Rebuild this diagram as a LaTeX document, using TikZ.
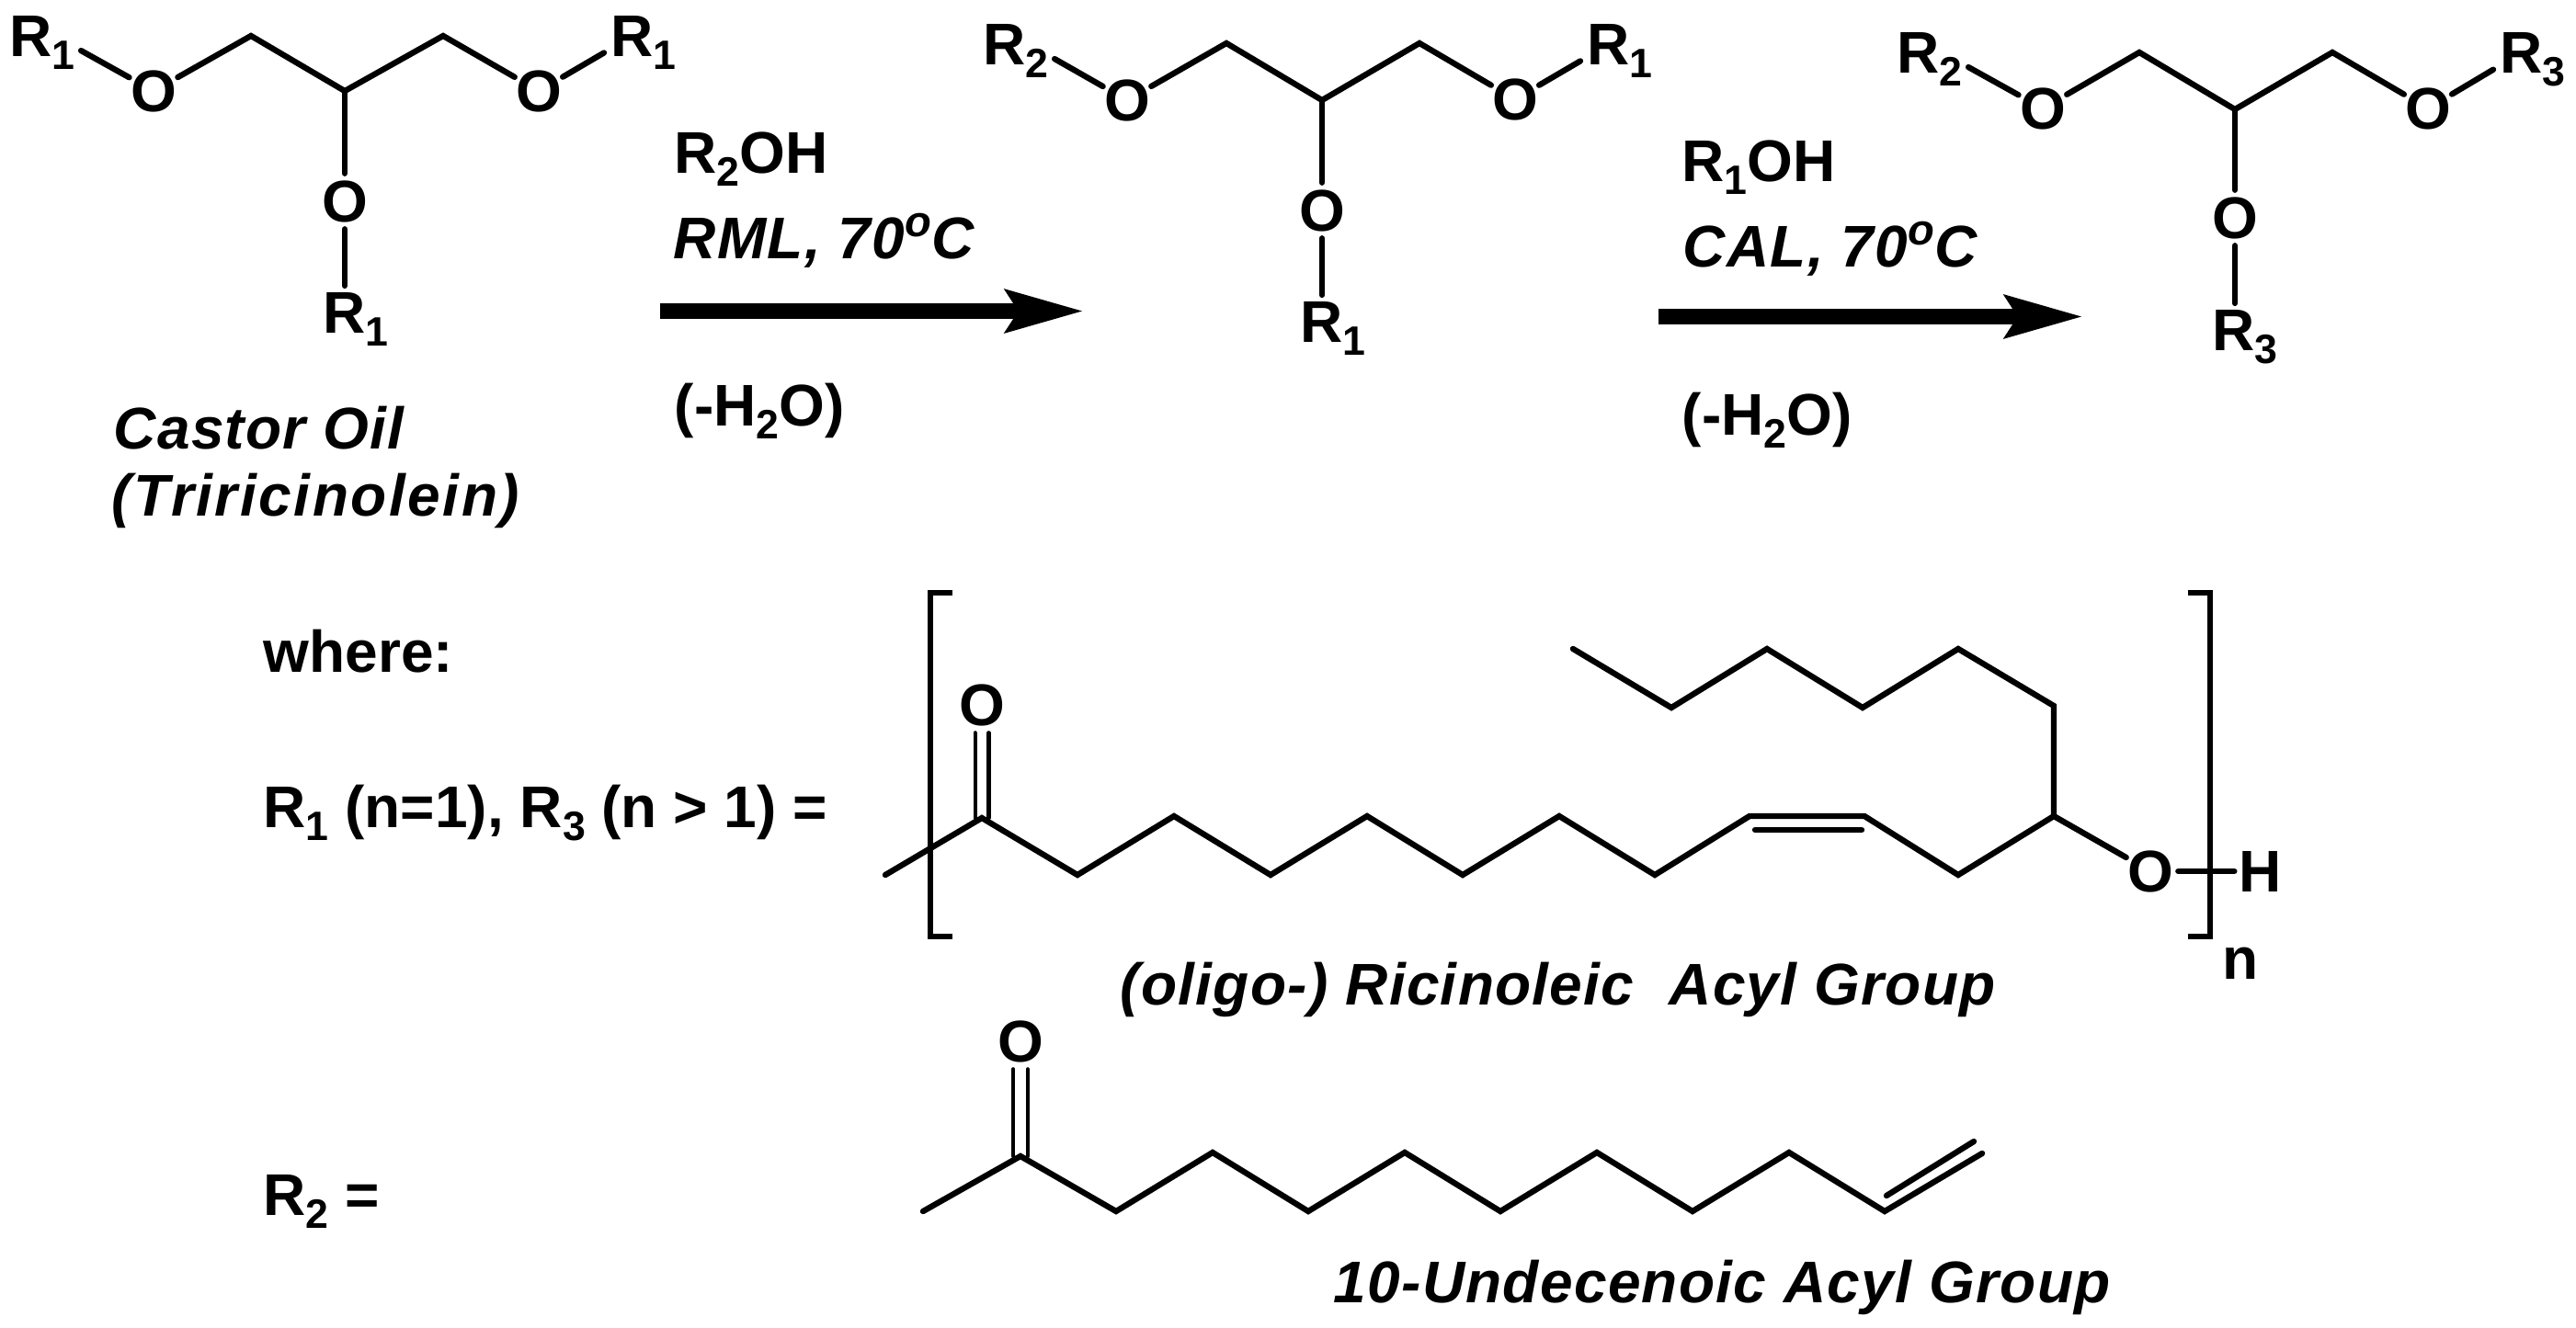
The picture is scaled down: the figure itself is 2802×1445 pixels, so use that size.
\documentclass[tikz,border=0pt]{standalone}
\usepackage{fontspec}
\setmainfont{Liberation Sans}
\newfontfamily\spacedfont[LetterSpace=2]{Liberation Sans}
\newfontfamily\widerfont[LetterSpace=4]{Liberation Sans}
\usepackage{tikz}
\usetikzlibrary{arrows.meta}
\newcommand{\subidx}[1]{\raisebox{-4pt}{\fontsize{12.7}{14}\selectfont #1}}
\newcommand{\supdeg}{\raisebox{6.8pt}{\fontsize{13.4}{14}\selectfont o}}
\tikzstyle{atom} = [circle, inner sep=-0.8pt, font=\fontsize{18.2}{20}\selectfont\bfseries]
\tikzstyle{rgroup} = [anchor=base west, inner sep=0pt, outer sep=2pt, font=\fontsize{18.2}{20}\selectfont\bfseries]
\tikzstyle{plain} = [anchor=base west, inner sep=0pt, font=\fontsize{18.2}{20}\selectfont\bfseries]
\tikzstyle{slanted} = [anchor=base west, inner sep=0pt, font=\fontsize{18.2}{20}\selectfont\bfseries\itshape\spacedfont]
\tikzstyle{bond} = [line width=1.8pt, line join=miter, line cap=round]
\tikzstyle{thin bond} = [line width=1.2pt, line cap=round]
\tikzstyle{bracket} = [line width=1.6pt]
\tikzstyle{reaction} = [line width=4.8pt, -{Stealth[length=.84cm, width=.45cm, inset=.13cm]}]
\begin{document}
\begin{tikzpicture}[x=0.01cm, y=-0.01cm]
    \useasboundingbox (0,0) rectangle (2802,1445);

    \node[rgroup] (ra1) at (3,61) {R\subidx{1}};
    \node[atom] (oa1) at (167,99) {O};
    \coordinate (ca1) at (273,39);
    \coordinate (ca2) at (375,99);
    \coordinate (ca3) at (482,39);
    \node[atom] (oa2) at (586,99) {O};
    \node[rgroup] (ra2) at (657,61) {R\subidx{1}};
    \node[atom] (oa3) at (375,219) {O};
    \node[rgroup] (ra3) at (344,362) {R\subidx{1}};
    \draw[bond] (ra1.-12) -- (oa1) -- (ca1) -- (ca2) -- (ca3) -- (oa2) -- (ra2.195);
    \draw[bond] (ca2) -- (oa3) -- (oa3 |- ra3.north);
    \node[slanted] (castor) at (123,488) {Castor Oil};
    \node[slanted, font=\fontsize{18.2}{20}\selectfont\bfseries\itshape\widerfont] (tri) at (121,561) {(Triricinolein)};

    \node[plain] (reagent1) at (733,188) {R\subidx{2}OH};
    \node[slanted] (cond1) at (732,281) {RML, 70\supdeg C};
    \node[plain] (water1) at (733,463) {(-H\subidx{2}O)};
    \coordinate (arra) at (718,338.5);
    \coordinate (arrb) at (1179,338.5);
    \draw[reaction] (arra) -- (arrb);

    \node[rgroup] (rb1) at (1062,70) {R\subidx{2}};
    \node[atom] (ob1) at (1226,109) {O};
    \coordinate (cb1) at (1334,47);
    \coordinate (cb2) at (1438,109);
    \coordinate (cb3) at (1544,47);
    \node[atom] (ob2) at (1648,108) {O};
    \node[rgroup] (rb2) at (1719,70) {R\subidx{1}};
    \node[atom] (ob3) at (1438,229) {O};
    \node[rgroup] (rb3) at (1407,372) {R\subidx{1}};
    \draw[bond] (rb1.-12) -- (ob1) -- (cb1) -- (cb2) -- (cb3) -- (ob2) -- (rb2.195);
    \draw[bond] (cb2) -- (ob3) -- (ob3 |- rb3.north);

    \node[plain] (reagent2) at (1829,197) {R\subidx{1}OH};
    \node[slanted] (cond2) at (1830,290) {CAL, 70\supdeg C};
    \node[plain] (water2) at (1829,473) {(-H\subidx{2}O)};
    \coordinate (arrc) at (1804,344.5);
    \coordinate (arrd) at (2266,344.5);
    \draw[reaction] (arrc) -- (arrd);

    \node[rgroup] (rc1) at (2056,79) {R\subidx{2}};
    \node[atom] (oc1) at (2222,118) {O};
    \coordinate (cc1) at (2327,57);
    \coordinate (cc2) at (2431,119);
    \coordinate (cc3) at (2537,57);
    \node[atom] (oc2) at (2641,118) {O};
    \node[rgroup] (rc2) at (2712,79) {R\subidx{3}};
    \node[atom] (oc3) at (2431,237) {O};
    \node[rgroup] (rc3) at (2399,381) {R\subidx{3}};
    \draw[bond] (rc1.-12) -- (oc1) -- (cc1) -- (cc2) -- (cc3) -- (oc2) -- (rc2.195);
    \draw[bond] (cc2) -- (oc3) -- (oc3 |- rc3.north);

    \node[plain] (where) at (286,731) {where:};
    \node[plain] (rdef) at (286,900) {R\subidx{1} (n=1), R\subidx{3} (n > 1) =};
    \node[plain] (rtwo) at (286,1322) {R\subidx{2} =};

    \coordinate (bl1) at (1036,645);
    \coordinate (bl2) at (1012,645);
    \coordinate (bl3) at (1012,1019);
    \coordinate (bl4) at (1036,1019);
    \coordinate (br1) at (2380,645);
    \coordinate (br2) at (2404,645);
    \coordinate (br3) at (2404,1019);
    \coordinate (br4) at (2380,1019);
    \draw[bracket] (bl1) -- (bl2) -- (bl3) -- (bl4);
    \draw[bracket] (br1) -- (br2) -- (br3) -- (br4);

    \coordinate (d1) at (963,952);
    \coordinate (d2) at (1068,890);
    \coordinate (d3) at (1172,952);
    \coordinate (d4) at (1277,888);
    \coordinate (d5) at (1382,952);
    \coordinate (d6) at (1487,888);
    \coordinate (d7) at (1591,952);
    \coordinate (d8) at (1696,888);
    \coordinate (d9) at (1800,952);
    \coordinate (d10) at (1903,888);
    \coordinate (d11) at (2028,888);
    \coordinate (d12) at (2130,952);
    \coordinate (d13) at (2234,888);
    \coordinate (e1) at (2234,768);
    \coordinate (e2) at (2130,706);
    \coordinate (e3) at (2026,770);
    \coordinate (e4) at (1922,706);
    \coordinate (e5) at (1818,770);
    \coordinate (e6) at (1711,706);
    \coordinate (f1) at (1909,903);
    \coordinate (f2) at (2025,903);
    \node[atom] (od1) at (2339,948) {O};
    \node[atom] (hd1) at (2459,948) {H};
    \node[atom] (od2) at (1068,767) {O};
    \draw[bond] (d1) -- (d2) -- (d3) -- (d4) -- (d5) -- (d6) -- (d7) -- (d8) -- (d9) -- (d10) -- (d11) -- (d12) -- (d13) -- (od1);
    \draw[bond] (d13) -- (e1) -- (e2) -- (e3) -- (e4) -- (e5) -- (e6);
    \draw[bond] (f1) -- (f2);
    \draw[bond] (od1) -- (hd1);
    \draw[thin bond] ([xshift=-2.1pt]d2) -- ([xshift=-2.1pt]d2 |- od2.south);
    \draw[thin bond] ([xshift=2.1pt]d2) -- ([xshift=2.1pt]d2 |- od2.south);
    \node[plain] (nidx) at (2417,1065) {n};
    \node[slanted] (ricin) at (1218,1093) {(oligo-) Ricinoleic\ \ Acyl Group};

    \coordinate (g1) at (1004,1318);
    \coordinate (g2) at (1110,1258);
    \coordinate (g3) at (1214,1318);
    \coordinate (g4) at (1319,1254);
    \coordinate (g5) at (1423,1318);
    \coordinate (g6) at (1528,1254);
    \coordinate (g7) at (1632,1318);
    \coordinate (g8) at (1737,1254);
    \coordinate (g9) at (1841,1318);
    \coordinate (g10) at (1946,1254);
    \coordinate (g11) at (2050,1318);
    \coordinate (g12) at (2156,1255);
    \coordinate (h1) at (2052,1301);
    \coordinate (h2) at (2147,1242);
    \node[atom] (og1) at (1110,1133) {O};
    \draw[bond] (g1) -- (g2) -- (g3) -- (g4) -- (g5) -- (g6) -- (g7) -- (g8) -- (g9) -- (g10) -- (g11) -- (g12);
    \draw[bond] (h1) -- (h2);
    \draw[thin bond] ([xshift=-2.2pt]g2) -- ([xshift=-2.2pt]g2 |- og1.south);
    \draw[thin bond] ([xshift=2.2pt]g2) -- ([xshift=2.2pt]g2 |- og1.south);
    \node[slanted] (undec) at (1450,1417) {10-Undecenoic Acyl Group};
\end{tikzpicture}
\end{document}
